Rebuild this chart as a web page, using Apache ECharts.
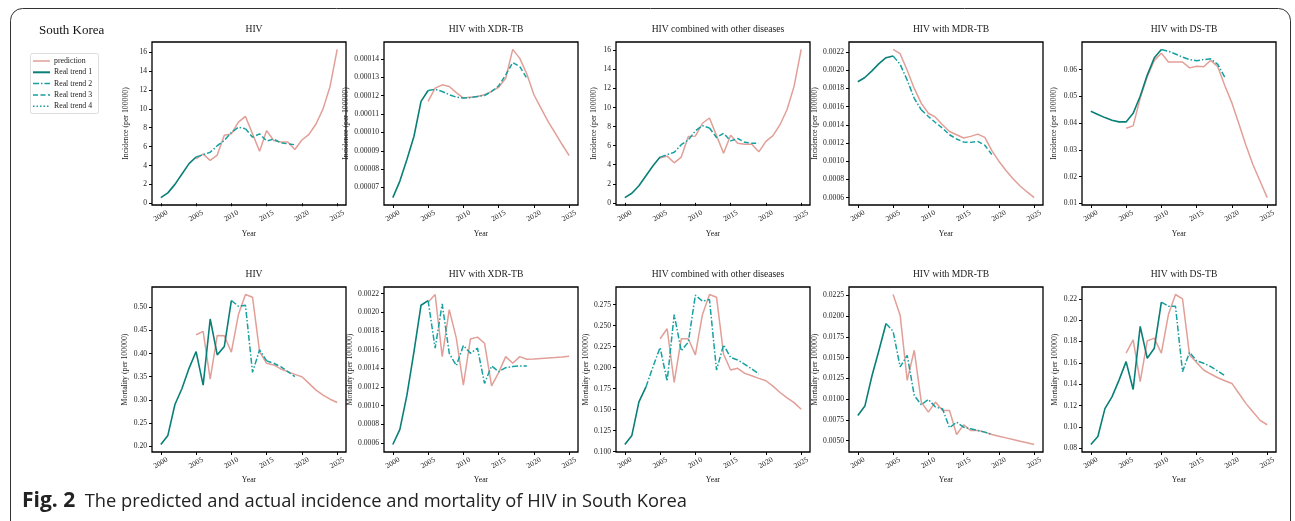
<!DOCTYPE html>
<html><head><meta charset="utf-8">
<script src="https://cdn.jsdelivr.net/npm/echarts@6/dist/echarts.min.js"></script>
<style>html,body{margin:0;padding:0;background:#fff}#c{width:1295px;height:521px}</style>
</head><body><div id="c"></div>
<script>
// ---------- DATA ----------
const realYears = [2000,2001,2002,2003,2004,2005,2006,2007,2008,2009,2010,2011,2012,2013,2014,2015,2016,2017,2018,2019];
const predYears = [2005,2006,2007,2008,2009,2010,2011,2012,2013,2014,2015,2016,2017,2018,2019,2020,2021,2022,2023,2024,2025];
const xTickLabels = ['2000','2005','2010','2015','2020','2025'];
const legendNames = ['prediction','Real trend 1','Real trend 2','Real trend 3','Real trend 4'];

const panelTitles = ['HIV','HIV with XDR-TB','HIV combined with other diseases','HIV with MDR-TB','HIV with DS-TB',
                     'HIV','HIV with XDR-TB','HIV combined with other diseases','HIV with MDR-TB','HIV with DS-TB'];

// Incidence
const incHivReal = [0.6,1.1,2.0,3.1,4.2,4.9,5.15,5.4,6.1,6.65,7.5,8.05,7.9,7.0,7.35,6.6,6.8,6.4,6.3,6.2];
const incHivPred = [4.7,5.2,4.55,5.1,7.2,7.35,8.6,9.2,7.35,5.5,7.7,6.65,6.5,6.5,5.7,6.7,7.3,8.4,10.0,12.4,16.3];
const incXdrReal = [0.0000645,0.0000735,0.0000853,0.0000979,0.0001169,0.0001228,0.0001235,0.0001223,0.0001205,0.0001192,0.0001187,0.000119,0.0001196,0.0001201,0.0001223,0.0001253,0.0001313,0.000138,0.0001358,0.0001295];
const incXdrPred = [0.0001169,0.0001241,0.0001259,0.000125,0.0001217,0.0001187,0.0001192,0.0001196,0.0001205,0.0001223,0.0001246,0.0001295,0.0001452,0.0001403,0.0001318,0.0001205,0.0001132,0.000106,0.0000997,0.0000934,0.0000874];
const incOthReal = [0.55,1.0,1.8,2.85,3.9,4.8,5.05,5.3,6.1,6.6,7.55,8.1,7.85,6.85,7.3,6.5,6.75,6.35,6.25,6.25];
const incOthPred = [4.7,4.9,4.2,4.8,6.95,7.0,8.35,8.9,7.05,5.2,7.1,6.25,6.15,6.15,5.35,6.45,7.05,8.2,9.8,12.25,16.1];
const incMdrReal = [0.001873,0.00192,0.001993,0.002073,0.002138,0.002156,0.002065,0.001891,0.001691,0.001564,0.001491,0.001425,0.001364,0.001291,0.001244,0.001211,0.001207,0.001218,0.001175,0.001073];
const incMdrPred = [0.002229,0.002182,0.0020,0.0018,0.001636,0.001527,0.001484,0.0014,0.001327,0.001291,0.001255,0.001273,0.001298,0.001262,0.001116,0.001,0.000898,0.000807,0.000727,0.000662,0.0006];
const incDsReal = [0.0445,0.0433,0.0421,0.0411,0.0405,0.0405,0.0437,0.0501,0.0580,0.0645,0.0676,0.0669,0.0659,0.0647,0.0638,0.0634,0.0638,0.0641,0.0620,0.0571];
const incDsPred = [0.0381,0.0390,0.0494,0.0574,0.0635,0.0662,0.0629,0.0629,0.0629,0.0607,0.0613,0.0611,0.0635,0.0611,0.0540,0.0476,0.0397,0.0317,0.0244,0.0183,0.0122];

// Mortality
const morHivReal = [0.2036,0.2232,0.2899,0.3246,0.3681,0.4043,0.3319,0.4746,0.3971,0.4152,0.5145,0.5022,0.5043,0.3594,0.408,0.3841,0.379,0.3717,0.3609,0.35];
const morHivPred = [0.4406,0.4478,0.3449,0.4391,0.4384,0.4029,0.4841,0.5275,0.5217,0.4043,0.379,0.3754,0.3667,0.3609,0.3551,0.35,0.3355,0.321,0.3101,0.3014,0.2942];
const morXdrReal = [0.000582,0.000744,0.001111,0.001578,0.002075,0.002125,0.001614,0.002089,0.00156,0.001427,0.001643,0.00156,0.001614,0.001237,0.001424,0.001363,0.001406,0.001417,0.001424,0.001424];
const morXdrPred = [0.002107,0.00219,0.001524,0.002028,0.001722,0.001219,0.001712,0.001733,0.001668,0.001211,0.001352,0.001524,0.001453,0.001524,0.001496,0.001499,0.001504,0.001509,0.001514,0.00152,0.001528];
const morOthReal = [0.1084,0.1192,0.1591,0.1771,0.2011,0.2239,0.1839,0.263,0.2199,0.2303,0.2862,0.279,0.281,0.1971,0.227,0.2119,0.2091,0.2039,0.1983,0.1923];
const morOthPred = [0.2343,0.2462,0.1823,0.2343,0.2343,0.2151,0.263,0.287,0.2838,0.2159,0.1971,0.1991,0.1931,0.1903,0.1871,0.1843,0.1779,0.1703,0.1639,0.1583,0.1503];
const morMdrReal = [0.00802,0.00915,0.01277,0.01587,0.01909,0.01816,0.01386,0.01527,0.01043,0.00931,0.00995,0.00903,0.00882,0.00653,0.00721,0.00661,0.00641,0.00621,0.00601,0.00572];
const morMdrPred = [0.02259,0.0201,0.01225,0.01587,0.00963,0.00842,0.00963,0.00862,0.00862,0.00572,0.00689,0.00621,0.00621,0.00601,0.00572,0.00552,0.00532,0.00512,0.00492,0.00472,0.00452];
const morDsReal = [0.0835,0.091,0.1171,0.1281,0.1438,0.1611,0.135,0.1942,0.1643,0.1737,0.2168,0.213,0.213,0.1517,0.1699,0.1618,0.1596,0.1564,0.1523,0.1479];
const morDsPred = [0.169,0.1816,0.1423,0.1806,0.1831,0.169,0.2052,0.224,0.2199,0.1674,0.1602,0.1533,0.1495,0.146,0.1432,0.1407,0.1313,0.1218,0.114,0.1061,0.102];

// Y tick labels
const yTicksIncHiv = ['0','2','4','6','8','10','12','14','16'];
const yTicksIncXdr = ['0.00006','0.00007','0.00008','0.00009','0.00010','0.00011','0.00012','0.00013','0.00014'];
const yTicksIncOth = ['0','2','4','6','8','10','12','14','16'];
const yTicksIncMdr = ['0.0006','0.0008','0.0010','0.0012','0.0014','0.0016','0.0018','0.0020','0.0022'];
const yTicksIncDs = ['0.01','0.02','0.03','0.04','0.05','0.06'];
const yTicksMorHiv = ['0.20','0.25','0.30','0.35','0.40','0.45','0.50'];
const yTicksMorXdr = ['0.0006','0.0008','0.0010','0.0012','0.0014','0.0016','0.0018','0.0020','0.0022'];
const yTicksMorOth = ['0.100','0.125','0.150','0.175','0.200','0.225','0.250','0.275'];
const yTicksMorMdr = ['0.0050','0.0075','0.0100','0.0125','0.0150','0.0175','0.0200','0.0225'];
const yTicksMorDs = ['0.08','0.10','0.12','0.14','0.16','0.18','0.20','0.22'];

// Year where each real-trend line style changes (trend 1 -> 2 -> 3)
const trendBreaks = [[2005,2012],[2005,2013],[2005,2012],[2005,2009],[2010,2019],
                     [2010,2015],[2005,2019],[2003,2019],[2004,2019],[2010,2019]];

const panels = [
  {real:incHivReal,pred:incHivPred,ticks:yTicksIncHiv},
  {real:incXdrReal,pred:incXdrPred,ticks:yTicksIncXdr},
  {real:incOthReal,pred:incOthPred,ticks:yTicksIncOth},
  {real:incMdrReal,pred:incMdrPred,ticks:yTicksIncMdr},
  {real:incDsReal,pred:incDsPred,ticks:yTicksIncDs},
  {real:morHivReal,pred:morHivPred,ticks:yTicksMorHiv},
  {real:morXdrReal,pred:morXdrPred,ticks:yTicksMorXdr},
  {real:morOthReal,pred:morOthPred,ticks:yTicksMorOth},
  {real:morMdrReal,pred:morMdrPred,ticks:yTicksMorMdr},
  {real:morDsReal,pred:morDsPred,ticks:yTicksMorDs}
];

// ---------- LAYOUT / STYLE ----------
const FONT = "'Liberation Serif','DejaVu Serif',serif";
const PRED_COLOR = '#e29f98';
const TEAL1 = '#0a7f78';
const TEAL2 = '#17a0a0';
const gridLefts = [152,384,616,849,1082];
const gridW = 194;
const rowTop = [42,287], rowH = [163,165];
const yNameGaps = [22,30,18,27,24, 23,27,23,28,23];
const TICK_FS = 7.6, NAME_FS = 7.8;
const lineStyles = [
  {color:PRED_COLOR,width:1.5,type:'solid'},
  {color:TEAL1,width:1.6,type:'solid'},
  {color:TEAL2,width:1.5,type:[6,2,1.5,2]},
  {color:TEAL2,width:1.5,type:[5,2.5]},
  {color:TEAL2,width:1.5,type:[1.5,2]}
];

const grids=[], xAxes=[], yAxes=[], series=[], titles=[];
titles.push({text:'South Korea', left:34, top:19, textStyle:{fontFamily:FONT,fontSize:13,fontWeight:'normal',color:'#111'}});

panels.forEach((p,i)=>{
  const row = i<5?0:1, col = i%5;
  grids.push({left:gridLefts[col], top:rowTop[row], width:gridW, height:rowH[row], show:true, borderColor:'#000', borderWidth:1.3, backgroundColor:'transparent'});
  titles.push({text:panelTitles[i], left:gridLefts[col]+gridW/2, textAlign:'center', top:row?264:19,
               textStyle:{fontFamily:FONT,fontSize:9.6,fontWeight:'normal',color:'#222'}});
  xAxes.push({type:'value', gridIndex:i, min:1998.75, max:2026.25,
    name:'Year', nameLocation:'middle', nameGap:row?24:25, nameTextStyle:{fontFamily:FONT,fontSize:NAME_FS,color:'#222'},
    axisLine:{show:false}, splitLine:{show:false},
    axisTick:{show:true, length:3, lineStyle:{color:'#000'}, customValues:xTickLabels.map(Number)},
    axisLabel:{customValues:xTickLabels.map(Number), rotate:30, align:'center', verticalAlign:'middle',
               fontFamily:FONT, fontSize:TICK_FS, color:'#222', margin:11,
               formatter:v=>String(Math.round(v))}
  });
  const all = p.real.concat(p.pred);
  const mn = Math.min(...all), mx = Math.max(...all), r = mx-mn;
  const tickVals = p.ticks.map(Number);
  yAxes.push({type:'value', gridIndex:i, min:mn-0.05*r, max:mx+0.05*r,
    name: row?'Mortality (per 100000)':'Incidence (per 100000)', nameLocation:'middle', nameGap:yNameGaps[i],
    nameTextStyle:{fontFamily:FONT,fontSize:NAME_FS,color:'#222'},
    axisLine:{show:false}, splitLine:{show:false},
    axisTick:{show:true, length:3, lineStyle:{color:'#000'}, customValues:tickVals},
    axisLabel:{customValues:tickVals, fontFamily:FONT, fontSize:TICK_FS, color:'#222', margin:5,
               formatter:v=>{let best=p.ticks[0],d=Infinity;p.ticks.forEach(t=>{const dd=Math.abs(Number(t)-v);if(dd<d){d=dd;best=t;}});return best;}}
  });
  series.push({name:legendNames[0], type:'line', xAxisIndex:i, yAxisIndex:i, symbol:'none', z:2,
    lineStyle:lineStyles[0], data:predYears.map((y,k)=>[y,p.pred[k]])});
  const [b1,b2] = trendBreaks[i];
  const seg = (a,b)=>realYears.map((y,k)=>[y,p.real[k]]).filter(d=>d[0]>=a&&d[0]<=b);
  series.push({name:legendNames[1], type:'line', xAxisIndex:i, yAxisIndex:i, symbol:'none', z:3,
    lineStyle:lineStyles[1], data:seg(2000,b1)});
  series.push({name:legendNames[2], type:'line', xAxisIndex:i, yAxisIndex:i, symbol:'none', z:3,
    lineStyle:lineStyles[2], data:seg(b1,b2)});
  if (b2<2019) series.push({name:legendNames[3], type:'line', xAxisIndex:i, yAxisIndex:i, symbol:'none', z:3,
    lineStyle:lineStyles[3], data:seg(b2,2019)});
});

// legend drawn as graphic elements (line samples + labels) inside a light box
const legendGraphics = [
  {type:'rect', shape:{x:30.5,y:53.5,width:68,height:60,r:2}, style:{fill:'#fff',stroke:'#ddd',lineWidth:1}}
];
legendNames.forEach((n,k)=>{
  const y = 61 + k*11.3;
  const ls = lineStyles[k];
  legendGraphics.push({type:'line', shape:{x1:33,y1:y,x2:50,y2:y},
    style:{stroke:ls.color, lineWidth:k===1?2:1.5, lineDash:Array.isArray(ls.type)?ls.type:null}});
  legendGraphics.push({type:'text', x:54, y:y, style:{text:n, font:"7.8px 'Liberation Serif', serif", fill:'#222', textVerticalAlign:'middle'}});
});

const chart = echarts.init(document.getElementById('c'), null, {renderer:'canvas'});
chart.setOption({
  backgroundColor:'#fff',
  animation:false,
  title:titles,
  grid:grids, xAxis:xAxes, yAxis:yAxes, series:series,
  graphic:[
    {type:'rect', shape:{x:10.5,y:8.5,width:1280,height:540,r:12}, style:{fill:'none',stroke:'#333',lineWidth:1}, z:-1},
    {type:'group', children:legendGraphics},
    {type:'text', left:22, top:491, style:{
      text:'{b|Fig. 2}  The predicted and actual incidence and mortality of HIV in South Korea',
      font:"18.3px 'Open Sans', sans-serif", fill:'#222',
      rich:{b:{font:"bold 21px 'Open Sans', sans-serif", fill:'#222'}}}}
  ]
});
</script></body></html>
